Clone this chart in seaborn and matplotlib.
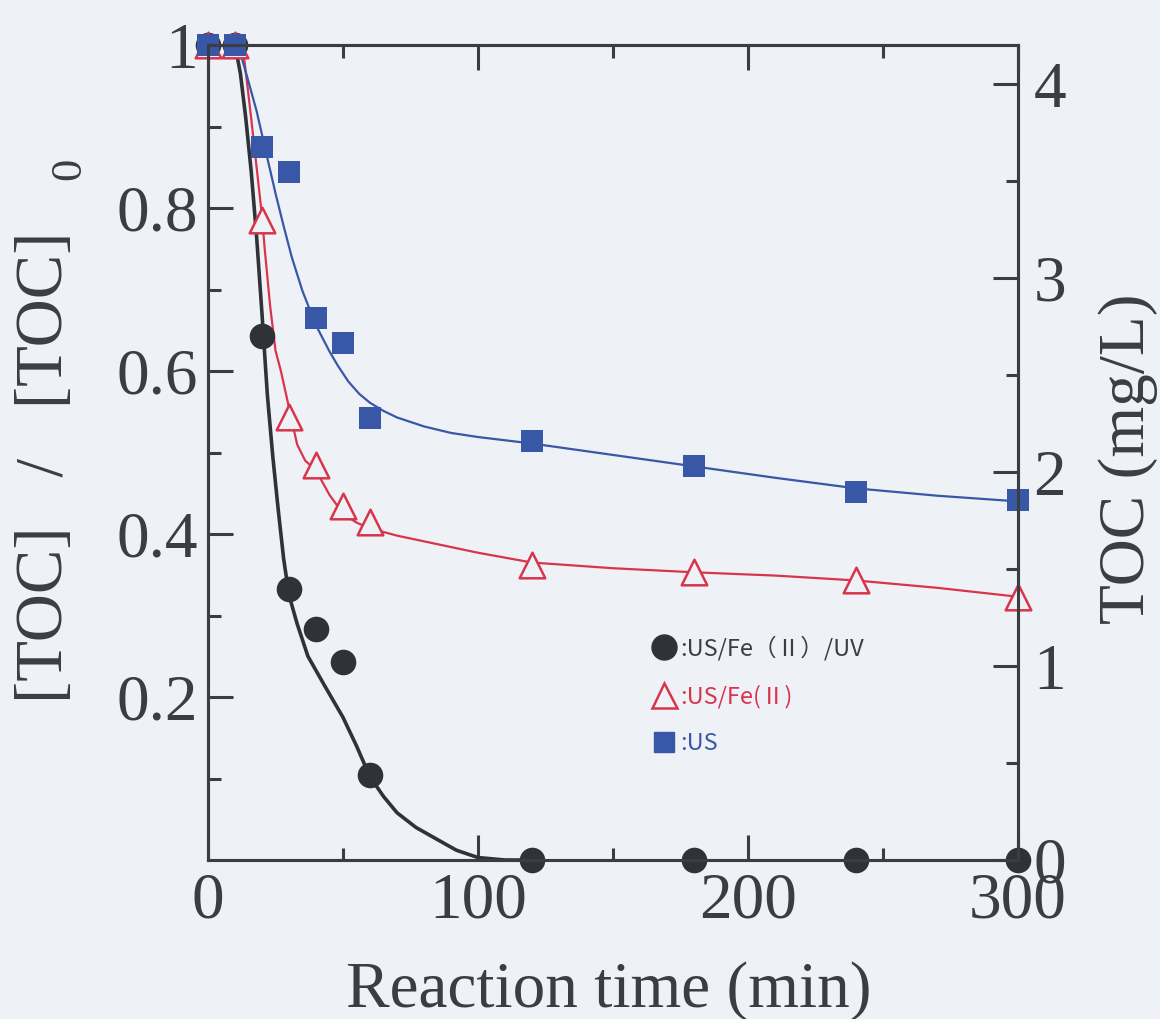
import numpy as np
import pandas as pd
import seaborn as sns
import matplotlib.pyplot as plt
from matplotlib.lines import Line2D
from matplotlib.ticker import FixedLocator, MultipleLocator

# ---------------- data ----------------
time_min = [0, 10, 20, 30, 40, 50, 60, 120, 180, 240, 300]
us_fe_uv = [1.0, 1.0, 0.643, 0.333, 0.283, 0.243, 0.104, 0.0, 0.0, 0.0, 0.0]
us_fe = [1.0, 1.0, 0.785, 0.543, 0.485, 0.434, 0.415, 0.362, 0.353, 0.343, 0.323]
us_only = [1.0, 1.0, 0.875, 0.844, 0.665, 0.634, 0.542, 0.514, 0.483, 0.452, 0.442]

# fitted curves
fit_uv_t = [10, 12, 14, 16, 18, 20, 22, 24, 26, 28, 30, 33, 37, 43, 50, 55, 60, 65, 70, 77, 85, 92, 100, 110, 120]
fit_uv_v = [1.0, 0.965, 0.91, 0.845, 0.765, 0.67, 0.57, 0.495, 0.43, 0.37, 0.325, 0.29, 0.25, 0.215, 0.175, 0.14, 0.102, 0.078, 0.058, 0.04, 0.025, 0.012, 0.003, 0.0, 0.0]
fit_fe_t = [10, 13, 16, 18, 20, 21, 23, 25, 27, 29, 31, 33, 36, 40, 45, 50, 55, 60, 70, 80, 90, 100, 120, 150, 180, 210, 240, 270, 300]
fit_fe_v = [1.0, 0.995, 0.91, 0.85, 0.79, 0.75, 0.68, 0.625, 0.60, 0.57, 0.54, 0.51, 0.49, 0.478, 0.448, 0.425, 0.414, 0.407, 0.398, 0.391, 0.384, 0.377, 0.365, 0.358, 0.353, 0.349, 0.343, 0.334, 0.323]
fit_us_t = [10, 12, 15, 18, 20, 22, 25, 28, 31, 35, 40, 45, 48, 52, 56, 60, 65, 70, 80, 90, 100, 120, 150, 180, 210, 240, 270, 300]
fit_us_v = [1.0, 0.99, 0.955, 0.919, 0.89, 0.861, 0.818, 0.778, 0.74, 0.698, 0.656, 0.624, 0.607, 0.587, 0.572, 0.561, 0.551, 0.543, 0.532, 0.524, 0.519, 0.511, 0.497, 0.483, 0.469, 0.456, 0.447, 0.44]

legend_labels = [":US/Fe（Ⅱ）/UV", ":US/Fe(Ⅱ)", ":US"]
x_ticks = [0, 100, 200, 300]
y_ticks = [0.2, 0.4, 0.6, 0.8, 1.0]
y_tick_labels = ["0.2", "0.4", "0.6", "0.8", "1"]
y2_ticks = [0, 1, 2, 3, 4]

# ---------------- style ----------------
BG = "#eef2f7"
INK = "#3a3d41"
BLACK = "#2f3236"
RED = "#d8354c"
BLUE = "#3857a6"

sns.set_theme(style="ticks")
plt.rcParams["font.family"] = ["Liberation Serif", "Noto Sans CJK JP", "DejaVu Sans"]
plt.rcParams["axes.unicode_minus"] = False

fig = plt.figure(figsize=(11.6, 10.19), dpi=100, facecolor=BG)
ax = fig.add_axes([208 / 1160, 1 - 860 / 1019, (1018 - 208) / 1160, (860 - 45) / 1019])
ax.set_facecolor(BG)

# curves
sns.lineplot(x=fit_uv_t, y=fit_uv_v, ax=ax, color=BLACK, lw=2.6, sort=False, estimator=None, zorder=2)
sns.lineplot(x=fit_fe_t, y=fit_fe_v, ax=ax, color=RED, lw=1.6, sort=False, estimator=None, zorder=2)
sns.lineplot(x=fit_us_t, y=fit_us_v, ax=ax, color=BLUE, lw=1.6, sort=False, estimator=None, zorder=2)

# markers
sns.scatterplot(x=time_min, y=us_fe_uv, ax=ax, marker="o", s=340, color=BLACK,
                edgecolor=BLACK, linewidth=0, clip_on=False, zorder=3)
sns.scatterplot(x=time_min, y=us_fe, ax=ax, marker="^", s=340, facecolor=BG,
                edgecolor=RED, linewidth=1.8, clip_on=False, zorder=4)
sns.scatterplot(x=time_min, y=us_only, ax=ax, marker="s", s=250, color=BLUE,
                edgecolor=BLUE, linewidth=0, clip_on=False, zorder=5)

ax.set_xlim(0, 300)
ax.set_ylim(0, 1.0)
ax.set_xlabel("")
ax.set_ylabel("")

ax.xaxis.set_major_locator(FixedLocator(x_ticks))
ax.xaxis.set_minor_locator(MultipleLocator(50))
ax.yaxis.set_major_locator(FixedLocator(y_ticks))
ax.set_yticklabels(y_tick_labels)
ax.yaxis.set_minor_locator(FixedLocator([0.1, 0.3, 0.5, 0.7, 0.9]))

for sp in ax.spines.values():
    sp.set_visible(True)
    sp.set_linewidth(2.2)
    sp.set_color(INK)

ax.tick_params(axis="both", which="both", direction="in", colors=INK, width=2.2,
               top=True, bottom=True, left=True, right=False)
ax.tick_params(axis="both", which="major", length=18, labelsize=47)
ax.tick_params(axis="both", which="minor", length=9)
ax.tick_params(axis="x", which="major", pad=9)
ax.tick_params(axis="y", which="major", pad=7)
for t in ax.get_xticklabels() + ax.get_yticklabels():
    t.set_color(INK)

# right axis
ax2 = ax.twinx()
ax2.set_ylim(0, 4.2)
ax2.yaxis.set_major_locator(FixedLocator(y2_ticks))
ax2.yaxis.set_minor_locator(MultipleLocator(0.5))
ax2.tick_params(axis="y", which="both", direction="in", colors=INK, width=2.2, right=True, left=False)
ax2.tick_params(axis="y", which="major", length=18, labelsize=47, pad=11)
ax2.tick_params(axis="y", which="minor", length=9)
for sp in ax2.spines.values():
    sp.set_linewidth(2.2)
    sp.set_color(INK)
for t in ax2.get_yticklabels():
    t.set_color(INK)

# axis titles
fig.text(609 / 1160, 1 - 1007 / 1019, "Reaction time (min)", fontsize=47, color=INK,
         ha="center", va="baseline")
fig.text(46 / 1160, 1 - 467 / 1019, "[TOC]   /   [TOC]", fontsize=48, color=INK,
         rotation=90, ha="center", va="center")
fig.text(69 / 1160, 1 - 169 / 1019, "0", fontsize=32, color=INK,
         rotation=90, ha="center", va="center")
fig.text(1128 / 1160, 1 - 459 / 1019, "TOC (mg/L)", fontsize=47, color=INK,
         rotation=90, ha="center", va="center")

# legend
handles = [
    Line2D([], [], ls="none", marker="o", ms=18, color=BLACK),
    Line2D([], [], ls="none", marker="^", ms=18, mfc=BG, mec=RED, mew=1.8),
    Line2D([], [], ls="none", marker="s", ms=15, color=BLUE),
]
leg = ax.legend(handles, legend_labels, loc="upper left",
                bbox_to_anchor=(640 / 1160, 1 - 624 / 1019), bbox_transform=fig.transFigure,
                frameon=False, borderpad=0, handlelength=1.05, handletextpad=0.15,
                labelspacing=1.02, prop={"family": ["Noto Sans CJK JP"], "size": 17})
for txt, c in zip(leg.get_texts(), [INK, RED, BLUE]):
    txt.set_color(c)

fig.savefig("out.png", dpi=100, facecolor=BG)
